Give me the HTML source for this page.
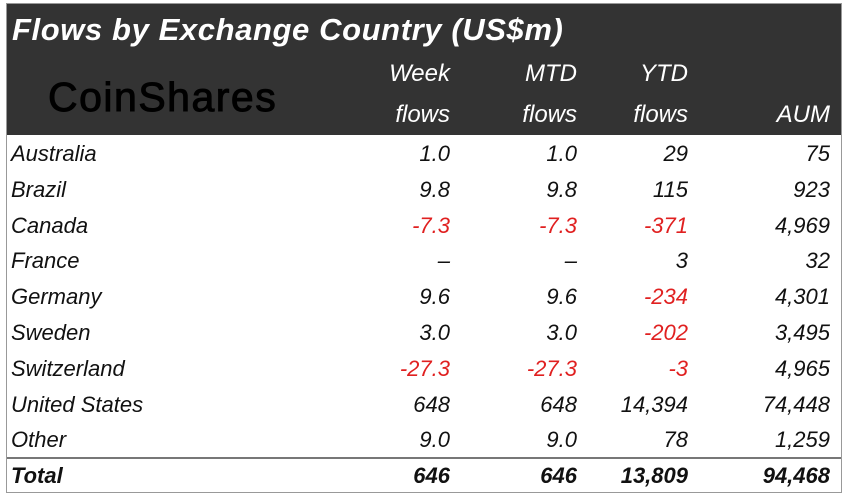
<!DOCTYPE html>
<html><head><meta charset="utf-8"><style>
body{margin:0;width:850px;height:502px;background:#fff;overflow:hidden;font-family:"Liberation Sans",sans-serif;}
#box{position:absolute;left:6px;top:3px;width:836px;height:490px;border:1px solid #999;box-sizing:border-box;}
#head{position:absolute;left:7px;top:4px;width:834px;height:131px;background:#333;}
.t{position:absolute;font-style:italic;white-space:nowrap;line-height:1;}
</style></head><body>
<div id="box"></div>
<div id="head"></div>
<div class="t" style="left:12px;top:14px;font-size:31px;font-weight:bold;color:#fff;letter-spacing:0.6px;">Flows by Exchange Country (US$m)</div>
<div class="t" style="left:48px;top:77px;font-size:41px;font-style:normal;color:#000;letter-spacing:1.5px;-webkit-text-stroke:1px #000;">CoinShares</div>
<div id="rows"></div>
<div style="position:absolute;left:7px;top:457px;width:834px;height:2px;background:#777;"></div>
<script>
const countries=["Australia","Brazil","Canada","France","Germany","Sweden","Switzerland","United States","Other","Total"];
const weekFlows=["1.0","9.8","-7.3","-","9.6","3.0","-27.3","648","9.0","646"];
const mtdFlows=["1.0","9.8","-7.3","-","9.6","3.0","-27.3","648","9.0","646"];
const ytdFlows=["29","115","-371","3","-234","-202","-3","14,394","78","13,809"];
const aum=["75","923","4,969","32","4,301","3,495","4,965","74,448","1,259","94,468"];
const headers1=["Week","MTD","YTD",""];
const headers2=["flows","flows","flows","AUM"];
const colRight=[450,577,688,830];
const root=document.getElementById('rows');
function txt(s,x,y,right,color,bold,size){
  const d=document.createElement('div');
  d.className='t';d.textContent=s;
  d.style.top=y+'px';d.style.fontSize=(size||22)+'px';d.style.color=color;
  if(bold)d.style.fontWeight='bold';
  if(right){d.style.right=(850-x)+'px';}else d.style.left=x+'px';
  root.appendChild(d);return d;
}
headers1.forEach((h,i)=>{if(!h)return;const e=txt(h,colRight[i],62,true,'#fff',false,24);

});
headers2.forEach((h,i)=>{const e=txt(h,colRight[i],103,true,'#fff',false,24);

});
const cols=[weekFlows,mtdFlows,ytdFlows,aum];
countries.forEach((c,r)=>{
  const y=r<9?143+r*35.8:465;
  const bold=r===9;
  const e=txt(c,11,y,false,'#111',bold,22);
  
  
  cols.forEach((col,i)=>{
    const v=col[r];const neg=v.startsWith('-')&&v!=='-';
    const cell=txt(v==='-'?'–':v,colRight[i],y,true,neg?'#e02020':'#111',bold,22);
    
    
  });
});
</script>
</body></html>
